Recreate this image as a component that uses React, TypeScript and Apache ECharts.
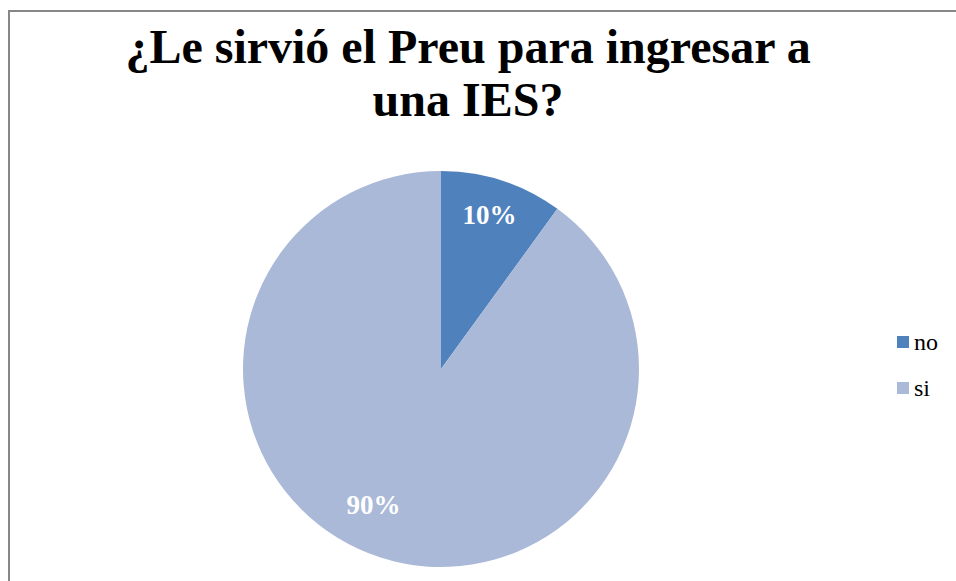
import React, { useEffect, useRef } from "react";
import * as echarts from "echarts";

const titleLines = ["¿Le sirvió el Preu para ingresar a", "una IES?"];
const categories = ["no", "si"];
const values = [10, 90];
const colors = ["#4F81BD", "#AAB9D7"];
const labelOffsets: [number, number][] = [[17, -57], [-36, 39]];

export default function App() {
  const ref = useRef<HTMLDivElement>(null);
  useEffect(() => {
    if (!ref.current) return;
    const chart = echarts.init(ref.current, undefined, { renderer: "svg" });
    const font = "Liberation Serif";
    chart.setOption({
      animation: false,
      backgroundColor: "#ffffff",
      title: {
        text: titleLines.join("\n"),
        left: 463,
        top: 15,
        textAlign: "center",
        textStyle: {
          fontFamily: font,
          fontWeight: "bold",
          fontSize: 48,
          lineHeight: 53,
          color: "#000000",
        },
      },
      legend: {
        orient: "vertical",
        left: 897,
        top: 330,
        padding: 0,
        itemWidth: 12,
        itemHeight: 12,
        itemGap: 22,
        icon: "rect",
        data: categories,
        textStyle: { fontFamily: font, fontSize: 24, color: "#000000" },
      },
      graphic: [
        {
          type: "rect",
          shape: { x: 9, y: 11, width: 1000, height: 1000 },
          style: { fill: "none", stroke: "#878787", lineWidth: 2 },
          silent: true,
          z: 100,
        },
      ],
      series: [
        {
          type: "pie",
          center: [441, 369],
          radius: [0, 198],
          startAngle: 90,
          clockwise: true,
          silent: true,
          labelLine: { show: false },
          label: {
            show: true,
            position: "inside",
            formatter: "{d}%",
            fontFamily: font,
            fontWeight: "bold",
            fontSize: 27,
            color: "#ffffff",
          },
          data: categories.map((name, i) => ({
            name,
            value: values[i],
            itemStyle: { color: colors[i] },
            label: { offset: labelOffsets[i] },
          })),
        },
      ],
    });
    return () => chart.dispose();
  }, []);
  return (
    <div
      ref={ref}
      style={{ position: "fixed", left: 0, top: 0, width: 956, height: 581 }}
    />
  );
}
